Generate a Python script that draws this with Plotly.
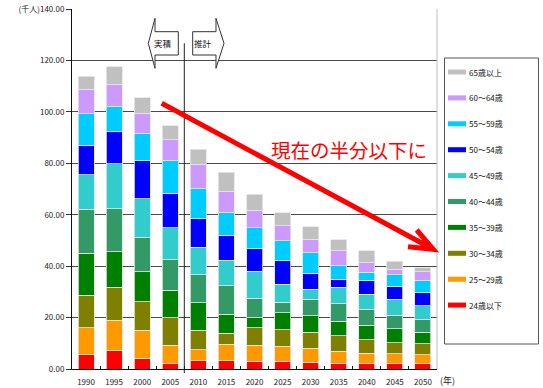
import plotly.graph_objects as go

# ---------------- data (千人) ----------------
years = ["1990", "1995", "2000", "2005", "2010", "2015", "2020",
         "2025", "2030", "2035", "2040", "2045", "2050"]

age_groups = ["24歳以下", "25～29歳", "30～34歳", "35～39歳", "40～44歳",
              "45～49歳", "50～54歳", "55～59歳", "60～64歳", "65歳以上"]

u24 = [5.6, 7.2, 4.2, 2.0, 3.3, 3.3, 3.1, 3.1, 2.7, 2.3, 2.0, 2.0, 2.0]
a25 = [10.5, 11.8, 10.9, 7.2, 4.2, 6.3, 6.1, 5.7, 5.4, 4.7, 4.2, 3.9, 3.6]
a30 = [12.5, 12.8, 11.0, 10.7, 7.6, 4.3, 6.9, 6.5, 6.1, 5.9, 5.2, 4.3, 4.3]
a35 = [16.4, 13.8, 11.8, 10.8, 10.6, 7.4, 3.9, 6.5, 6.5, 5.7, 5.6, 5.5, 4.3]
a40 = [17.2, 16.8, 13.4, 11.7, 10.9, 11.0, 7.6, 4.1, 6.5, 6.8, 6.2, 5.2, 5.0]
a45 = [13.4, 17.5, 14.9, 12.5, 10.8, 9.9, 10.4, 7.1, 3.9, 6.3, 5.9, 6.3, 5.4]
a50 = [11.5, 12.4, 14.7, 13.4, 11.1, 9.8, 8.7, 9.1, 6.1, 3.2, 5.5, 4.9, 5.0]
a55 = [12.1, 9.9, 10.8, 12.9, 11.6, 9.0, 8.2, 7.8, 8.1, 5.5, 3.0, 4.5, 5.0]
a60 = [9.5, 8.6, 7.7, 7.9, 9.5, 8.2, 6.9, 5.8, 5.2, 5.5, 3.8, 2.1, 3.2]
o65 = [5.2, 6.8, 6.0, 5.5, 5.8, 7.4, 6.2, 5.0, 4.9, 4.3, 4.6, 3.2, 1.6]

series = [u24, a25, a30, a35, a40, a45, a50, a55, a60, o65]
colors = ["#ff0000", "#ff9900", "#808000", "#008000", "#339966",
          "#33cccc", "#0000ff", "#00ccff", "#cc99ff", "#c0c0c0"]

y_tickvals = [0, 20, 40, 60, 80, 100, 120, 140]
y_ticktext = ["0.00", "20.00", "40.00", "60.00", "80.00", "100.00", "120.00", "(千人)140.00"]

# ---------------- layout geometry ----------------
W_FIG, H_FIG = 543, 388
L, R, T, B = 72, 437, 9, 369          # plot area in pixels
PW, PH = R - L, B - T

def px(x):  # pixel x -> paper
    return (x - L) / PW

def py(y):  # pixel y -> paper
    return (B - y) / PH

NARROW = "Liberation Sans Narrow, Noto Sans CJK JP, sans-serif"
CJK = "Noto Sans CJK JP, sans-serif"

fig = go.Figure()
for name, vals, col in zip(age_groups, series, colors):
    fig.add_trace(go.Bar(
        x=years, y=vals, name=name, marker_color=col,
        marker_line=dict(color="#e6e6e6", width=0.8),
        showlegend=False,
    ))

shapes = []
annotations = []

def note(x, y, text, size, color="#111", family=CJK, xanchor="center"):
    annotations.append(dict(xref="paper", yref="paper", x=x, y=y, text=text,
                            xanchor=xanchor, yanchor="middle", showarrow=False,
                            font=dict(family=family, size=size, color=color)))

# right border of plot area
shapes.append(dict(type="line", xref="paper", yref="paper", x0=1, x1=1, y0=0, y1=1,
                   line=dict(color="#bdbdbd", width=1)))

# divider between actual and projected
shapes.append(dict(type="line", xref="x", yref="paper", x0=3.5, x1=3.5,
                   y0=py(373), y1=py(43.3), line=dict(color="#222", width=1)))

# block arrows (実積 <- , -> 推計)
def path(points):
    return "M " + " L ".join(f"{px(a):.5f},{py(b):.5f}" for a, b in points) + " Z"

cy = 43.3
left_arrow = [(148.3, cy), (155, 18.3), (155, 31.7), (178.3, 31.7),
              (178.3, 55), (155, 55), (155, 68.3)]
right_arrow = [(224, cy), (216, 68.3), (216, 55), (192.7, 55),
               (192.7, 31.7), (216, 31.7), (216, 18.3)]
for pts in (left_arrow, right_arrow):
    shapes.append(dict(type="path", xref="paper", yref="paper", path=path(pts),
                       fillcolor="white", line=dict(color="#333", width=1)))
note(px(163), py(cy), "実積", 8.5)
note(px(202.5), py(cy), "推計", 8.5)

# big red arrow
start, tip = (161.7, 103.3), (433.3, 249.3)
barb1, barb2 = (416.7, 230.0), (408.0, 246.7)
red_path = (f"M {px(start[0]):.5f},{py(start[1]):.5f} L {px(tip[0]):.5f},{py(tip[1]):.5f} "
            f"M {px(barb1[0]):.5f},{py(barb1[1]):.5f} L {px(tip[0]):.5f},{py(tip[1]):.5f} "
            f"L {px(barb2[0]):.5f},{py(barb2[1]):.5f}")
shapes.append(dict(type="path", xref="paper", yref="paper", path=red_path,
                   line=dict(color="#ff0000", width=5)))
note(px(348.5), py(149.3), "現在の半分以下に", 19.5, color="#ff0000")

# year unit
note(px(447.5), py(380.5), "(年)", 9, color="#222")

# custom legend
shapes.append(dict(type="rect", xref="paper", yref="paper",
                   x0=px(444.5), x1=px(538.5), y0=py(344), y1=py(58),
                   fillcolor="white", line=dict(color="#555", width=1)))
for i, (name, col) in enumerate(zip(age_groups[::-1], colors[::-1])):
    yc = 72 + i * 25.9
    shapes.append(dict(type="rect", xref="paper", yref="paper",
                       x0=px(448), x1=px(466), y0=py(yc + 2.5), y1=py(yc - 2.5),
                       fillcolor=col, line=dict(width=0)))
    note(px(466.5), py(yc), name, 8, family=NARROW, xanchor="left")

fig.update_layout(
    width=W_FIG, height=H_FIG,
    margin=dict(l=L, r=W_FIG - R, t=T, b=H_FIG - B, pad=0, autoexpand=False),
    paper_bgcolor="white", plot_bgcolor="white",
    barmode="stack", bargap=0.43,
    shapes=shapes, annotations=annotations,
    xaxis=dict(type="category", range=[-0.5, 12.5], showline=True, linecolor="#111",
               linewidth=1, ticks="inside", tickson="boundaries", ticklen=3,
               tickcolor="#111", showgrid=False, tickangle=0, ticklabelstandoff=5,
               automargin=False,
               tickfont=dict(family=NARROW, size=8, color="#222")),
    yaxis=dict(range=[0, 140], tickvals=y_tickvals, ticktext=y_ticktext,
               showline=True, linecolor="#111", linewidth=1, ticks="outside",
               ticklen=5, tickcolor="#333", showgrid=True, gridcolor="#4a4a4a",
               gridwidth=1, zeroline=False, automargin=False,
               tickfont=dict(family=NARROW, size=8, color="#222")),
    font=dict(family=NARROW),
)

fig.write_html("out.html")
